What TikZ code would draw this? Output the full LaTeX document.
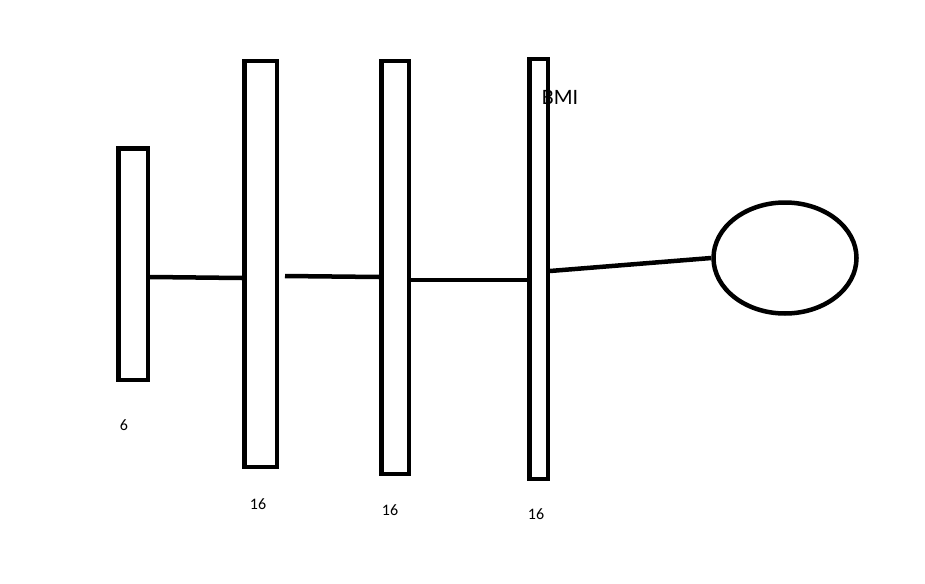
\documentclass[tikz,border=0pt]{standalone}
\usepackage{fontspec}
\setmainfont{Carlito}
\usetikzlibrary{shapes.geometric, positioning, calc}

\tikzset{
    layer/.style={draw, line width=4.5pt, inner sep=0pt},
    outnode/.style={draw, ellipse, line width=4.5pt, inner sep=0pt, minimum width=143pt, minimum height=111pt},
    link/.style={line width=4.5pt},
    count/.style={font=\fontsize{16}{18}\selectfont}
}

\begin{document}
\begin{tikzpicture}[x=1pt, y=-1pt]
            \useasboundingbox (0,0) rectangle (925,583);

            \node[layer, minimum width=29.5pt, minimum height=231.5pt] (L1) at (133,264) {};
            \node[layer, minimum width=32.5pt, minimum height=405.5pt] (L2) at (260.5,264) {};
            \node[layer, minimum width=27.5pt, minimum height=412.5pt] (L3) at (395,267.5) {};
            \node[layer, minimum width=18.5pt, minimum height=419.5pt] (L4) at (538.5,269) {};
            \node[outnode] (Out) at (785,258) {};

            \coordinate (s2) at (285,276);% loose end right of the second layer

            \draw[link] (L1.east |- 0,277) -- (L2.west |- 0,278);
            \draw[link] (s2) -- (L3.west |- 0,277);
            \draw[link] (L3.east |- 0,280) -- (L4.west |- 0,280);
            \draw[link] (L4.east |- 0,271) -- (Out.west);

            \node[count] (n1) at (124,425) {6};
            \node[count] (n2) at (258,504) {16};
            \node[count] (n3) at (390,510) {16};
            \node[count] (n4) at (536,514) {16};

            \node[font=\fontsize{22}{26}\selectfont] (bmi) at (560,97) {BMI};
        \end{tikzpicture}
\end{document}
